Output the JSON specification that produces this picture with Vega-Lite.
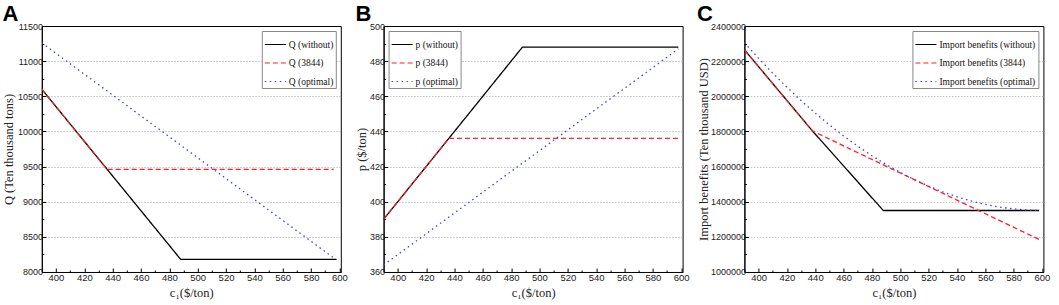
{
  "$schema": "https://vega.github.io/schema/vega-lite/v6.json",
  "background": "white",
  "padding": {"left": 1.8, "top": 2, "right": 5, "bottom": 2},
  "spacing": 5.8,
  "config": {
    "view": {"stroke": "black", "strokeWidth": 1},
    "axis": {
      "domainColor": "black", "tickColor": "black", "labelFont": "Liberation Sans", "labelFontSize": 9, "labelColor": "#222",
      "titleFont": "Liberation Serif", "titleFontSize": 12.5, "titleFontWeight": "normal", "titleColor": "#222",
      "labelPadding": 3, "labelFlush": false, "labelOverlap": false, "format": "d", "gridDash": [1.5, 1.5], "gridWidth": 0.8
    },
    "axisX": {"grid": false, "labelPadding": 5, "titlePadding": 2, "labelFontSize": 9.5},
    "legend": {
      "orient": "top-right", "offset": 5, "strokeColor": "#888", "fillColor": "white", "padding": 2,
      "labelFont": "Liberation Serif", "labelFontSize": 9.5, "labelColor": "#111", "symbolType": "stroke", "labelOffset": 2,
      "symbolSize": 441, "symbolStrokeWidth": 1.2, "rowPadding": 2.5, "labelLimit": 300, "title": null
    },
    "title": {"font": "Liberation Sans", "fontSize": 22, "fontWeight": "bold", "anchor": "start", "frame": "bounds", "offset": -4, "color": "black"}
  },
  "hconcat": [
    {
      "width": 299, "height": 246,
      "title": "A",
      "data": {"values": [
        {"s": "Q (without)", "c": 390, "v": 10600}, {"s": "Q (without)", "c": 488, "v": 8180}, {"s": "Q (without)", "c": 598, "v": 8180},
        {"s": "Q (3844)", "c": 390, "v": 10600}, {"s": "Q (3844)", "c": 436, "v": 9460}, {"s": "Q (3844)", "c": 596, "v": 9460},
        {"s": "Q (optimal)", "c": 390, "v": 11260}, {"s": "Q (optimal)", "c": 596, "v": 8200}
      ]},
      "mark": {"type": "line", "strokeWidth": 1.3, "clip": true},
      "encoding": {
        "x": {"field": "c", "type": "quantitative", "scale": {"domain": [390, 601], "nice": false, "zero": false},
          "axis": {"title": "c₁($/ton)", "values": [400, 410, 420, 430, 440, 450, 460, 470, 480, 490, 500, 510, 520, 530, 540, 550, 560, 570, 580, 590, 600],
            "labelExpr": "datum.value % 20 === 0 ? datum.label : ''",
            "tickSize": {"condition": {"test": "datum.value % 20 === 0", "value": -4}, "value": -2}}},
        "y": {"field": "v", "type": "quantitative", "scale": {"domain": [8000, 11500], "nice": false, "zero": false},
          "axis": {"title": "Q (Ten thousand tons)", "grid": true, "titlePadding": 2, "labelPadding": 3.3,
            "values": [8000, 8250, 8500, 8750, 9000, 9250, 9500, 9750, 10000, 10250, 10500, 10750, 11000, 11250, 11500],
            "labelExpr": "datum.value % 500 === 0 ? datum.label : ''",
            "gridOpacity": {"condition": {"test": "datum.value % 500 === 0 && datum.value > 8000 && datum.value < 11500", "value": 1}, "value": 0},
            "gridColor": {"condition": {"test": "datum.value % 500 === 0 && datum.value > 8000 && datum.value < 11500", "value": "#b4b4b4"}, "value": "transparent"},
            "tickSize": {"condition": {"test": "datum.value % 500 === 0", "value": -4}, "value": -2}}},
        "color": {"field": "s", "type": "nominal", "scale": {"domain": ["Q (without)", "Q (3844)", "Q (optimal)"], "range": ["#000000", "#ff2020", "#4040dc"]}},
        "strokeDash": {"field": "s", "type": "nominal", "scale": {"domain": ["Q (without)", "Q (3844)", "Q (optimal)"], "range": [[1, 0], [5, 3], [1.5, 3.5]]}}
      }
    },
    {
      "width": 299, "height": 246,
      "title": "B",
      "data": {"values": [
        {"s": "p (without)", "c": 390, "v": 390}, {"s": "p (without)", "c": 488, "v": 488}, {"s": "p (without)", "c": 598, "v": 488},
        {"s": "p (3844)", "c": 390, "v": 390}, {"s": "p (3844)", "c": 436, "v": 436}, {"s": "p (3844)", "c": 598, "v": 436},
        {"s": "p (optimal)", "c": 390, "v": 364}, {"s": "p (optimal)", "c": 598, "v": 487}
      ]},
      "mark": {"type": "line", "strokeWidth": 1.3, "clip": true},
      "encoding": {
        "x": {"field": "c", "type": "quantitative", "scale": {"domain": [390, 601], "nice": false, "zero": false},
          "axis": {"title": "c₁($/ton)", "values": [400, 410, 420, 430, 440, 450, 460, 470, 480, 490, 500, 510, 520, 530, 540, 550, 560, 570, 580, 590, 600],
            "labelExpr": "datum.value % 20 === 0 ? datum.label : ''",
            "tickSize": {"condition": {"test": "datum.value % 20 === 0", "value": -4}, "value": -2}}},
        "y": {"field": "v", "type": "quantitative", "scale": {"domain": [360, 500], "nice": false, "zero": false},
          "axis": {"title": "p ($/ton)", "grid": true, "titlePadding": 1, "labelPadding": 3.2,
            "values": [360, 370, 380, 390, 400, 410, 420, 430, 440, 450, 460, 470, 480, 490, 500],
            "labelExpr": "datum.value % 20 === 0 ? datum.label : ''",
            "gridOpacity": {"condition": {"test": "datum.value % 20 === 0 && datum.value > 360 && datum.value < 500", "value": 1}, "value": 0},
            "gridColor": {"condition": {"test": "datum.value % 20 === 0 && datum.value > 360 && datum.value < 500", "value": "#b4b4b4"}, "value": "transparent"},
            "tickSize": {"condition": {"test": "datum.value % 20 === 0", "value": -4}, "value": -2}}},
        "color": {"field": "s", "type": "nominal", "scale": {"domain": ["p (without)", "p (3844)", "p (optimal)"], "range": ["#000000", "#ff2020", "#4040dc"]},
          "legend": {"orient": "top-left"}},
        "strokeDash": {"field": "s", "type": "nominal", "scale": {"domain": ["p (without)", "p (3844)", "p (optimal)"], "range": [[1, 0], [5, 3], [1.5, 3.5]]},
          "legend": {"orient": "top-left"}}
      }
    },
    {
      "width": 299, "height": 246,
      "title": "C",
      "data": {"values": [
        {"s": "Import benefits (without)", "c": 390, "v": 2265000}, {"s": "Import benefits (without)", "c": 438, "v": 1803000},
        {"s": "Import benefits (without)", "c": 488, "v": 1350000}, {"s": "Import benefits (without)", "c": 598, "v": 1350000},
        {"s": "Import benefits (3844)", "c": 390, "v": 2265000}, {"s": "Import benefits (3844)", "c": 438, "v": 1803000},
        {"s": "Import benefits (3844)", "c": 598, "v": 1185000},
        {"s": "Import benefits (optimal)", "c": 390, "v": 2305000}, {"s": "Import benefits (optimal)", "c": 400, "v": 2216000},
        {"s": "Import benefits (optimal)", "c": 410, "v": 2131600}, {"s": "Import benefits (optimal)", "c": 420, "v": 2051500},
        {"s": "Import benefits (optimal)", "c": 430, "v": 1975700}, {"s": "Import benefits (optimal)", "c": 440, "v": 1904200},
        {"s": "Import benefits (optimal)", "c": 450, "v": 1837100}, {"s": "Import benefits (optimal)", "c": 460, "v": 1774300},
        {"s": "Import benefits (optimal)", "c": 470, "v": 1715900}, {"s": "Import benefits (optimal)", "c": 480, "v": 1661800},
        {"s": "Import benefits (optimal)", "c": 490, "v": 1612000}, {"s": "Import benefits (optimal)", "c": 500, "v": 1566500},
        {"s": "Import benefits (optimal)", "c": 510, "v": 1525400}, {"s": "Import benefits (optimal)", "c": 520, "v": 1488600},
        {"s": "Import benefits (optimal)", "c": 530, "v": 1456100}, {"s": "Import benefits (optimal)", "c": 540, "v": 1427900},
        {"s": "Import benefits (optimal)", "c": 550, "v": 1404100}, {"s": "Import benefits (optimal)", "c": 560, "v": 1384600},
        {"s": "Import benefits (optimal)", "c": 570, "v": 1369500}, {"s": "Import benefits (optimal)", "c": 580, "v": 1358700},
        {"s": "Import benefits (optimal)", "c": 590, "v": 1352200}, {"s": "Import benefits (optimal)", "c": 598, "v": 1350100}
      ]},
      "mark": {"type": "line", "strokeWidth": 1.3, "clip": true},
      "encoding": {
        "x": {"field": "c", "type": "quantitative", "scale": {"domain": [390, 601], "nice": false, "zero": false},
          "axis": {"title": "c₁($/ton)", "values": [400, 410, 420, 430, 440, 450, 460, 470, 480, 490, 500, 510, 520, 530, 540, 550, 560, 570, 580, 590, 600],
            "labelExpr": "datum.value % 20 === 0 ? datum.label : ''",
            "tickSize": {"condition": {"test": "datum.value % 20 === 0", "value": -4}, "value": -2}}},
        "y": {"field": "v", "type": "quantitative", "scale": {"domain": [1000000, 2400000], "nice": false, "zero": false},
          "axis": {"title": "Import benefits (Ten thousand USD)", "grid": true, "titlePadding": 0.5, "labelPadding": 2.8,
            "values": [1000000, 1100000, 1200000, 1300000, 1400000, 1500000, 1600000, 1700000, 1800000, 1900000, 2000000, 2100000, 2200000, 2300000, 2400000],
            "labelExpr": "datum.value % 200000 === 0 ? datum.label : ''",
            "gridOpacity": {"condition": {"test": "datum.value % 200000 === 0 && datum.value > 1000000 && datum.value < 2400000", "value": 1}, "value": 0},
            "gridColor": {"condition": {"test": "datum.value % 200000 === 0 && datum.value > 1000000 && datum.value < 2400000", "value": "#b4b4b4"}, "value": "transparent"},
            "tickSize": {"condition": {"test": "datum.value % 200000 === 0", "value": -4}, "value": -2}}},
        "color": {"field": "s", "type": "nominal", "scale": {"domain": ["Import benefits (without)", "Import benefits (3844)", "Import benefits (optimal)"], "range": ["#000000", "#ff2020", "#4040dc"]}},
        "strokeDash": {"field": "s", "type": "nominal", "scale": {"domain": ["Import benefits (without)", "Import benefits (3844)", "Import benefits (optimal)"], "range": [[1, 0], [5, 3], [1.5, 3.5]]}}
      }
    }
  ],
  "resolve": {"scale": {"color": "independent", "strokeDash": "independent"}, "legend": {"color": "independent", "strokeDash": "independent"}}
}
